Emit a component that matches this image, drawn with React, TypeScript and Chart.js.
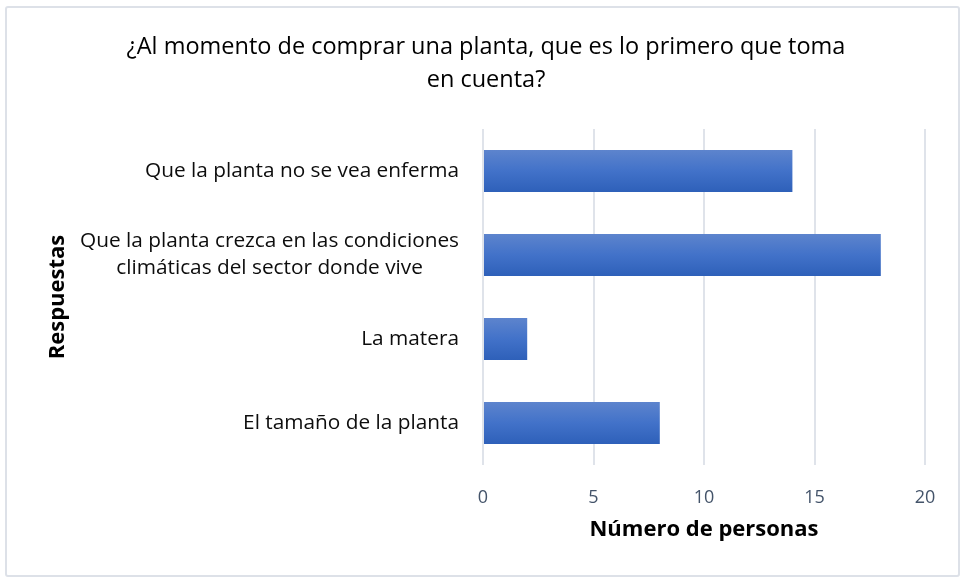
import React, { useEffect, useRef } from "react";
import { Chart, registerables } from "chart.js";

Chart.register(...registerables);

const titleLines = ["¿Al momento de comprar una planta, que es lo primero que toma", "en cuenta?"];
const categories: string[][] = [
  ["Que la planta no se vea enferma"],
  ["Que la planta crezca en las condiciones", "climáticas del sector donde vive"],
  ["La matera"],
  ["El tamaño de la planta"],
];
const values = [14, 18, 2, 8];
const xTitle = "Número de personas";
const yTitle = "Respuestas";
const FONT = "'Open Sans', 'Noto Sans', sans-serif";

const yLabelPlugin = {
  id: "yLabels",
  afterDraw(chart: any) {
    const ctx = chart.ctx;
    const y = chart.scales.y;
    const area = chart.chartArea;
    ctx.save();
    ctx.font = `20.8px ${FONT}`;
    ctx.fillStyle = "#0d0d0d";
    ctx.textBaseline = "middle";
    ctx.textAlign = "center";
    const lh = 27;
    categories.forEach((lines, i) => {
      const cy = y.getPixelForValue(i);
      const maxW = Math.max(...lines.map((l) => ctx.measureText(l).width));
      const cx = area.left - 24 - maxW / 2;
      const top = cy - ((lines.length - 1) * lh) / 2;
      lines.forEach((l, j) => ctx.fillText(l, cx, top + j * lh));
    });
    ctx.restore();
  },
};

export default function App() {
  const ref = useRef<HTMLCanvasElement>(null);
  useEffect(() => {
    if (!ref.current) return;
    const chart = new Chart(ref.current, {
      type: "bar",
      data: {
        labels: categories.map((c) => c.join(" ")),
        datasets: [
          {
            data: values,
            barPercentage: 0.5,
            categoryPercentage: 1,
            backgroundColor: (ctx: any) => {
              const ch = ctx.chart;
              const ys = ch.scales && ch.scales.y;
              if (!ys || !ch.chartArea) return "#4472c4";
              const cy = ys.getPixelForValue(ctx.dataIndex);
              const half = (ys.height / categories.length) * 0.25;
              const g = ch.ctx.createLinearGradient(0, cy - half, 0, cy + half);
              g.addColorStop(0, "#5d84cd");
              g.addColorStop(0.5, "#4272c9");
              g.addColorStop(1, "#2e60b9");
              return g;
            },
            borderWidth: 0,
          },
        ],
      },
      options: {
        indexAxis: "y",
        animation: false,
        responsive: false,
        maintainAspectRatio: false,
        layout: { padding: { top: 0, right: 40, bottom: 33, left: 47 } },
        plugins: {
          legend: { display: false },
          tooltip: { enabled: false },
          title: {
            display: true,
            text: titleLines,
            color: "#000000",
            font: { family: FONT, size: 23.5, weight: "normal", lineHeight: 1.4 },
            padding: { top: 30.5, bottom: 32.7 },
          },
        },
        scales: {
          x: {
            min: 0,
            max: 20,
            ticks: {
              stepSize: 5,
              color: "#44546a",
              font: { family: FONT, size: 18 },
              padding: 22,
            },
            grid: { color: "#dfe3ea", lineWidth: 2, drawTicks: false },
            border: { display: false },
            title: {
              display: true,
              text: xTitle,
              color: "#000000",
              font: { family: FONT, size: 22, weight: "bold", lineHeight: 1.2 },
              padding: { top: 0, bottom: 6 },
            },
            afterFit: (s: any) => {
              s.height = 84;
            },
          },
          y: {
            ticks: { display: false },
            grid: { display: false },
            border: { display: false },
            title: {
              display: true,
              text: yTitle,
              color: "#000000",
              font: { family: FONT, size: 22, weight: "bold", lineHeight: 1 },
              padding: { top: 0, bottom: 0 },
            },
            afterFit: (s: any) => {
              s.width = 436;
            },
          },
        },
      },
      plugins: [yLabelPlugin],
    } as any);
    return () => chart.destroy();
  }, []);
  return (
    <div style={{ position: "absolute", left: 0, top: 0, width: 965, height: 582, background: "#fff" }}>
      <div
        style={{
          position: "absolute",
          left: 5,
          top: 6,
          width: 951,
          height: 567,
          border: "2px solid #dde1e8",
          borderRadius: 3,
        }}
      />
      <canvas ref={ref} width={965} height={582} style={{ position: "absolute", left: 0, top: 0 }} />
    </div>
  );
}
